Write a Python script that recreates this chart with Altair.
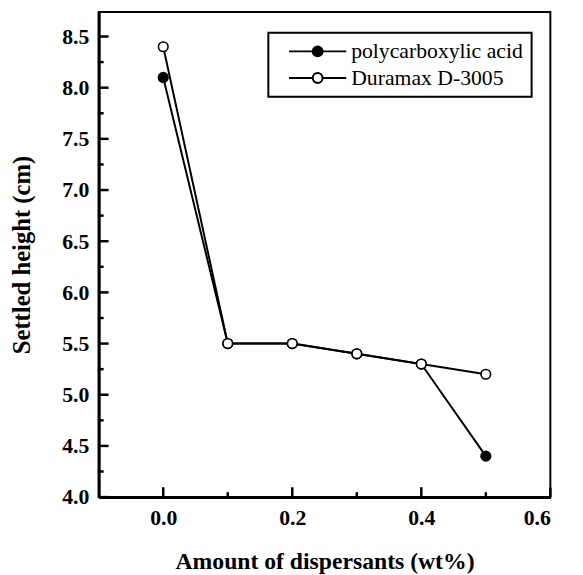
import altair as alt
import pandas as pd

# ---- data ----
x_vals = [0.0, 0.1, 0.2, 0.3, 0.4, 0.5]
poly_vals = [8.1, 5.5, 5.5, 5.4, 5.3, 4.4]
dura_vals = [8.4, 5.5, 5.5, 5.4, 5.3, 5.2]
series = ["polycarboxylic acid", "Duramax D-3005"]

x_labels = [0.0, 0.2, 0.4, 0.6]
x_minor = [0.1, 0.3, 0.5]
y_labels = [4.0, 4.5, 5.0, 5.5, 6.0, 6.5, 7.0, 7.5, 8.0, 8.5]
y_minor = [4.25, 4.75, 5.25, 5.75, 6.25, 6.75, 7.25, 7.75, 8.25]

rows = []
for xv, yv in zip(x_vals, poly_vals):
    rows.append({"x": xv, "y": yv, "s": series[0], "kind": "series"})
for xv, yv in zip(x_vals, dura_vals):
    rows.append({"x": xv, "y": yv, "s": series[1], "kind": "series"})
for v in y_labels:
    rows.append({"x": None, "y": v, "s": "", "kind": "ymajor"})
for v in y_minor:
    rows.append({"x": None, "y": v, "s": "", "kind": "yminor"})
for v in x_labels:
    rows.append({"x": v, "y": None, "s": "", "kind": "xmajor"})
for v in x_minor:
    rows.append({"x": v, "y": None, "s": "", "kind": "xminor"})
df = pd.DataFrame(rows)

W, H = 458, 492
FONT = "Liberation Serif"

xs = alt.Scale(domain=[-0.1, 0.6], nice=False, zero=False)
ys = alt.Scale(domain=[4.0, 8.74], nice=False, zero=False)
fill_scale = alt.Scale(domain=series, range=["black", "white"])

x_main = alt.Axis(values=x_labels, format=".1f", ticks=False, tickSize=0,
                  labelFont=FONT, labelFontWeight="bold", labelFontSize=22,
                  labelColor="black", labelPadding=11, domainColor="black",
                  domainWidth=3, grid=False,
                  title="Amount of dispersants (wt%)", titleFont=FONT,
                  titleFontWeight="bold", titleFontSize=24, titleColor="black",
                  titlePadding=21)
y_main = alt.Axis(values=y_labels, format=".1f", ticks=False, tickSize=0,
                  labelFont=FONT, labelFontWeight="bold", labelFontSize=22,
                  labelColor="black", labelPadding=10, domainColor="black",
                  domainWidth=3, grid=False,
                  title="Settled height (cm)", titleFont=FONT,
                  titleFontWeight="bold", titleFontSize=25, titleColor="black",
                  titlePadding=28)

legend = alt.Legend(
    title=None, orient="none", legendX=172, legendY=21,
    symbolType="M0.2,0L2.6,0M3.6,0L6.0,0M3.6,0A0.5,0.5,0,1,1,2.6,0A0.5,0.5,0,1,1,3.6,0",
    symbolSize=400, symbolStrokeColor="black", symbolStrokeWidth=2,
    symbolOpacity=1, labelLimit=400,
    labelFont=FONT, labelFontSize=22, labelColor="black", labelOffset=54,
    padding=8, rowPadding=5, strokeColor="black",
    fillColor="white", cornerRadius=0,
)

base = alt.Chart(df)

lines = base.transform_filter("datum.kind == 'series'").mark_line(
    color="black", strokeWidth=2
).encode(
    x=alt.X("x:Q", scale=xs, axis=x_main),
    y=alt.Y("y:Q", scale=ys, axis=y_main),
    detail="s:N",
)

points = base.transform_filter("datum.kind == 'series'").mark_point(
    shape="circle", filled=True, size=95, stroke="black", strokeWidth=1.6, opacity=1
).encode(
    x=alt.X("x:Q", scale=xs),
    y=alt.Y("y:Q", scale=ys),
    fill=alt.Fill("s:N", scale=fill_scale, legend=legend, sort=series),
)


def yticks(kind, length):
    return base.transform_filter(f"datum.kind == '{kind}'").mark_tick(
        color="black", thickness=2.5, size=length, orient="horizontal", opacity=1
    ).encode(
        y=alt.Y("y:Q", scale=ys),
        x=alt.value(length / 2),
    )


def xticks(kind, length):
    return base.transform_filter(f"datum.kind == '{kind}'").mark_tick(
        color="black", thickness=2.5, size=length, orient="vertical", opacity=1
    ).encode(
        x=alt.X("x:Q", scale=xs),
        y=alt.value(H - length / 2),
    )


chart = alt.layer(
    lines,
    yticks("ymajor", 10), yticks("yminor", 5),
    xticks("xmajor", 10), xticks("xminor", 5),
    points,
).properties(
    width=W, height=H,
    autosize=alt.AutoSizeParams(type="none"),
    padding={"left": 92, "top": 0, "right": 25, "bottom": 75},
    background="white",
).configure_view(stroke="black", strokeWidth=2).configure_legend(strokeWidth=2)

chart.save("out.html", embed_options={"renderer": "svg", "actions": False})
